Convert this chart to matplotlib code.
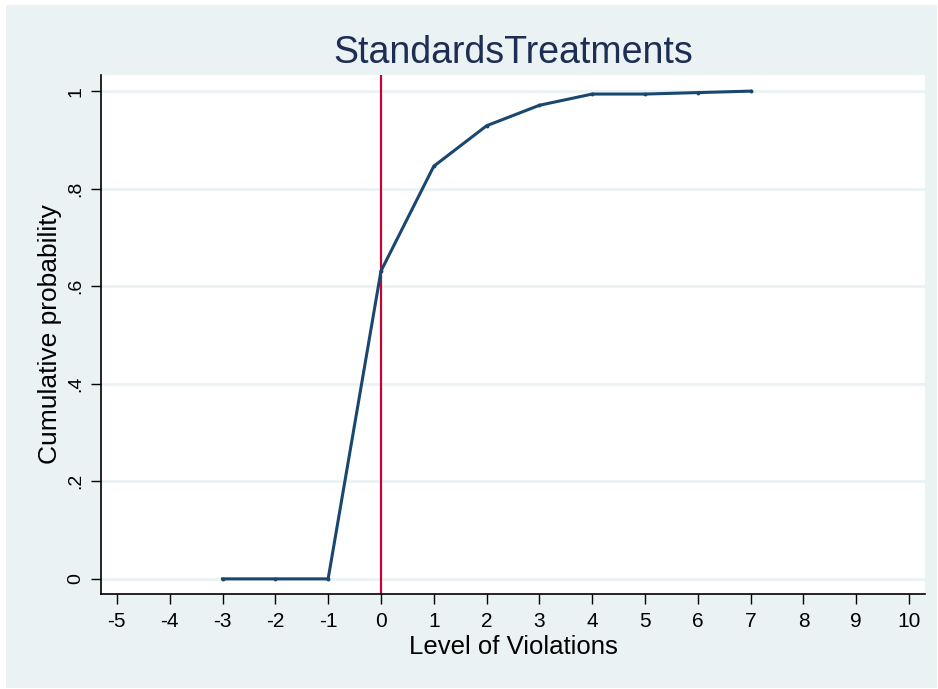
import matplotlib.pyplot as plt
from matplotlib.patches import Rectangle

plt.rcParams['font.family'] = ['Liberation Sans', 'DejaVu Sans']

# data
violation_level = [-3, -2, -1, 0, 1, 2, 3, 4, 5, 6, 7]
cum_prob = [0.0, 0.0, 0.0, 0.631, 0.846, 0.929, 0.971, 0.994, 0.994, 0.997, 1.0]
x_ticks = list(range(-5, 11))
y_ticks = [0, 0.2, 0.4, 0.6, 0.8, 1.0]
y_tick_labels = ['0', '.2', '.4', '.6', '.8', '1']

bg = '#eaf2f3'
navy = '#1a476f'

fig = plt.figure(figsize=(9.38, 6.89), dpi=100, facecolor='white')
# light graph region inside a thin white border
fig.patches.append(Rectangle((6 / 938, 1 / 689), 931 / 938, 683 / 689,
                             transform=fig.transFigure, facecolor=bg,
                             edgecolor='none', zorder=-10))

ax = fig.add_axes([0.1077, 0.1379, 0.8784, 0.7532])
ax.set_facecolor('white')

# horizontal grid
for yv in y_ticks:
    ax.axhline(yv, color=bg, lw=2, zorder=0)

ax.axvline(0, color='#c10534', lw=1.6, zorder=2)
ax.plot(violation_level, cum_prob, color=navy, lw=2.2, marker='o', markersize=1.8, zorder=3)

ax.set_xlim(-5.30, 10.30)
ax.set_ylim(-0.031, 1.033)
ax.set_xticks(x_ticks)
ax.set_xticklabels([str(v) for v in x_ticks])
ax.set_yticks(y_ticks)
ax.set_yticklabels(y_tick_labels, rotation=90, va='center')
ax.tick_params(axis='both', direction='out', length=7, width=1, colors='black')
ax.tick_params(axis='x', labelsize=15, pad=6)
ax.tick_params(axis='y', labelsize=14, pad=5)

for side in ['top', 'right']:
    ax.spines[side].set_visible(False)
for side in ['left', 'bottom']:
    ax.spines[side].set_color('black')
    ax.spines[side].set_linewidth(1.2)

ax.set_xlabel('Level of Violations', fontsize=18.5, labelpad=3)
ax.set_ylabel('Cumulative probability', fontsize=19)
ax.yaxis.set_label_coords(-0.047, 0.5)
ax.set_title('StandardsTreatments', fontsize=27, color='#1e2d53', pad=9)

fig.savefig('out.png', dpi=100, facecolor='white')
